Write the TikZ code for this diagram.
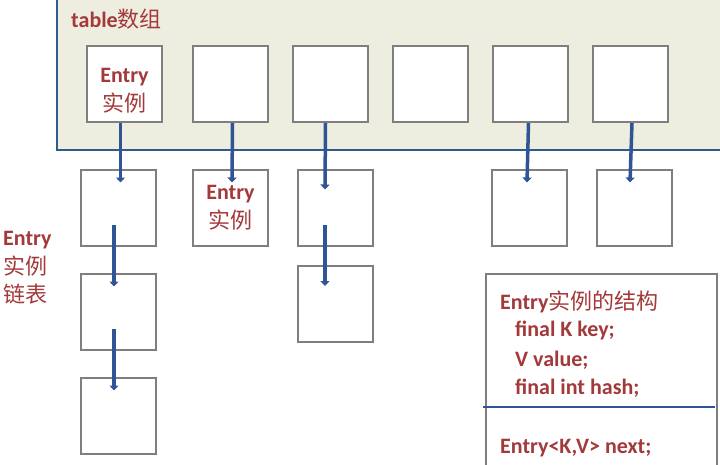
\documentclass[tikz,border=0pt]{standalone}
\usepackage{fontspec}
\setmainfont{Carlito}
\newfontfamily\cjk{Noto Sans CJK SC}
\usetikzlibrary{arrows.meta, positioning}
\definecolor{panelfill}{HTML}{EDEEDF}
\definecolor{panelline}{HTML}{2E5A8C}
\definecolor{boxline}{HTML}{7F7F7F}
\definecolor{linkblue}{HTML}{2F5597}
\definecolor{labelred}{HTML}{A3393B}
\newcommand{\zh}[1]{{\cjk\mdseries #1}}
\tikzset{
    base/.style = {rectangle, draw=boxline, line width=2pt, fill=white, minimum width=75pt, minimum height=76pt, inner sep=0pt, font=\fontsize{22}{29}\selectfont\bfseries, text=labelred, align=center},
    panelbox/.style = {rectangle, draw=panelline, line width=2pt, fill=panelfill},
    txt/.style = {font=\fontsize{22}{28.5}\selectfont\bfseries, text=labelred, inner sep=0pt, align=left},
    link/.style = {line width=3.5pt, draw=linkblue, -{Triangle[width=9pt,length=5pt]}},
    divider/.style = {line width=2.2pt, draw=linkblue}
}

\begin{document}
\begin{tikzpicture}[x=1pt, y=-1pt]
        \useasboundingbox (0,0) rectangle (720,464);
        \clip (0,0) rectangle (720,464);

        % The table array (runs off the top and right edge)
        \node (panel) [panelbox, anchor=north west, minimum width=700pt, minimum height=166pt] at (56,-17) {};
        \node (title) [txt, anchor=west] at (71,19) {table\zh{数组}};

        % Slots of the table
        \node (t1) [base] at (124.5,84) {\rule{0pt}{27pt}Entry\\\zh{实例}};
        \node (t2) [base, right=29pt of t1] {};
        \node (t3) [base, right=23pt of t2] {};
        \node (t4) [base, right=23pt of t3] {};
        \node (t5) [base, right=23pt of t4] {};
        \node (t6) [base, right=23pt of t5] {};

        % Entry chains hanging below the slots
        \node (c11) [base] at (118.5,207.5) {};
        \node (c12) [base, below=26pt of c11] {};
        \node (c13) [base, below=26pt of c12] {};
        \node (c21) [base] at (230.5,207.5) {Entry\\\zh{实例}};
        \node (c31) [base] at (335.5,207.5) {};
        \node (c32) [base, below=18.5pt of c31] {};
        \node (c51) [base] at (529,207.5) {};
        \node (c61) [base] at (634.5,207.5) {};

        \node (chainlbl) [txt, anchor=west] at (3,268) {Entry\\\zh{实例}\\\zh{链表}};

        % Structure of one Entry
        \node (struct) [base, anchor=north west, minimum width=231pt, minimum height=220pt] at (485,273) {};
        \node (shead) [txt, anchor=west] at ([xshift=15pt,yshift=-29pt]struct.north west) {Entry\zh{实例的结构}};
        \node (skey) [txt, anchor=west] at ([xshift=30pt,yshift=-57pt]struct.north west) {final K key;};
        \node (sval) [txt, anchor=west] at ([xshift=30pt,yshift=-87pt]struct.north west) {V value;};
        \node (shash) [txt, anchor=west] at ([xshift=30pt,yshift=-115pt]struct.north west) {final int hash;};
        \node (snext) [txt, anchor=west] at ([xshift=15pt,yshift=-175pt]struct.north west) {Entry<K,V> next;};
        \draw [divider] ([xshift=-2pt,yshift=-134pt]struct.north west) -- ([xshift=-3pt,yshift=-134pt]struct.north east);

        % Links from the slots
        \draw [link] ([xshift=-4pt]t1.south) -- ([xshift=2pt,yshift=-14pt]c11.north);
        \draw [link] ([xshift=2pt]t2.south) -- ([xshift=1.5pt,yshift=-14pt]c21.north);
        \draw [link] ([xshift=-5pt]t3.south) -- ([xshift=-10.5pt,yshift=-21pt]c31.north);
        \draw [link] ([xshift=-2pt]t5.south) -- ([xshift=-2pt,yshift=-14pt]c51.north);
        \draw [link] ([xshift=1.5pt]t6.south) -- ([xshift=-4.5pt,yshift=-14pt]c61.north);

        % Links inside the chains
        \draw [link] ([xshift=-4.5pt,yshift=22pt]c11.south) -- ([xshift=-4.5pt,yshift=-14pt]c12.north);
        \draw [link] ([xshift=-4.5pt,yshift=22pt]c12.south) -- ([xshift=-4.5pt,yshift=-14pt]c13.north);
        \draw [link] ([xshift=-10.5pt,yshift=22pt]c31.south) -- ([xshift=-10.5pt,yshift=-21pt]c32.north);
\end{tikzpicture}
\end{document}
